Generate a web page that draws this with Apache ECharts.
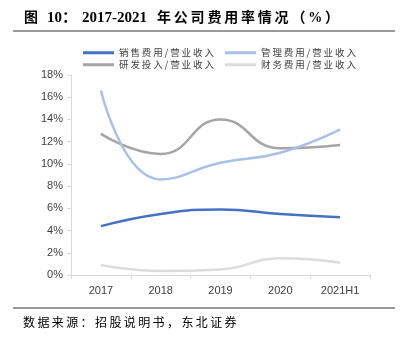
<!DOCTYPE html>
<html><head><meta charset="utf-8">
<script src="https://cdn.jsdelivr.net/npm/echarts@6/dist/echarts.min.js"></script>
<style>html,body{margin:0;padding:0;background:#fff}#c{width:402px;height:337px}</style>
</head><body><div id="c"></div>
<script>
const categories = ['2017', '2018', '2019', '2020', '2021H1'];
const salesRate = [4.4, 5.5, 5.9, 5.5, 5.2];
const adminRate = [16.6, 8.6, 10.1, 11.0, 13.1];
const rdRate = [12.7, 10.9, 14.0, 11.4, 11.7];
const financeRate = [0.9, 0.35, 0.5, 1.5, 1.1];
const seriesNames = ['销售费用/营业收入', '管理费用/营业收入', '研发投入/营业收入', '财务费用/营业收入'];
const yTicks = [0, 2, 4, 6, 8, 10, 12, 14, 16, 18];

const colors = ['#4472C4', '#A9C0E8', '#A5A5A5', '#DCDCDC'];
const chart = echarts.init(document.getElementById('c'));
const spaced = (s, sp) => s.split('').join(sp);
const legendPos = [[78, 43], [220, 43], [78, 55], [220, 55]];
const cjk = '"Noto Sans CJK SC", sans-serif';
const serif = '"Liberation Serif", "Noto Sans CJK SC", serif';
chart.setOption({
  animation: false,
  color: colors,
  grid: { left: 71, right: 32, top: 75, bottom: 62 },
  legend: seriesNames.map((n, i) => ({
    data: [n], left: legendPos[i][0], top: legendPos[i][1],
    icon: 'rect', itemWidth: 31, itemHeight: 3, itemGap: 4,
    formatter: name => spaced(name, '\u2009'),
    textStyle: { fontFamily: cjk, fontSize: 9.5, color: '#404040' }
  })),
  xAxis: {
    type: 'category', data: categories, boundaryGap: true,
    axisLine: { lineStyle: { color: '#D9D9D9' } },
    axisTick: { show: true, lineStyle: { color: '#D9D9D9' }, length: 4 },
    axisLabel: { color: '#404040', fontSize: 11, fontFamily: 'Liberation Sans, sans-serif', margin: 10 }
  },
  yAxis: {
    type: 'value', min: yTicks[0], max: yTicks[yTicks.length - 1], interval: 2,
    axisLine: { show: true, lineStyle: { color: '#D9D9D9' } },
    axisTick: { show: true, lineStyle: { color: '#D9D9D9' }, length: 4 },
    splitLine: { show: false },
    axisLabel: { formatter: v => v + '%', color: '#404040', fontSize: 11, fontFamily: 'Liberation Sans, sans-serif', margin: 8 }
  },
  series: [salesRate, adminRate, rdRate, financeRate].map((d, i) => ({
    name: seriesNames[i], type: 'line', data: d, smooth: 0.5, symbol: 'none',
    lineStyle: { width: 2.5, color: colors[i] }, z: 4 - i
  })),
  graphic: [
    { type: 'text', x: 24, y: 18, style: { text: '图', fontSize: 14, fontWeight: 'bold', fontFamily: serif, fill: '#000', verticalAlign: 'middle' } },
    { type: 'text', x: 47, y: 18, style: { text: '10：', fontSize: 15, fontWeight: 'bold', fontFamily: serif, fill: '#000', verticalAlign: 'middle' } },
    { type: 'text', x: 82, y: 18, style: { text: '2017-2021', fontSize: 15, fontWeight: 'bold', fontFamily: serif, fill: '#000', verticalAlign: 'middle' } },
    { type: 'text', x: 157, y: 18, style: { text: spaced('年公司费用率情况（%）', '\u2009'), fontSize: 14, fontWeight: 'bold', fontFamily: serif, fill: '#000', verticalAlign: 'middle' } },
    { type: 'line', shape: { x1: 13, y1: 31, x2: 395, y2: 31 }, style: { stroke: '#333', lineWidth: 1 } },
    { type: 'line', shape: { x1: 13, y1: 308, x2: 395, y2: 308 }, style: { stroke: '#777', lineWidth: 1.5 } },
    { type: 'text', x: 23, y: 322, style: { text: spaced('数据来源：招股说明书，东北证券', '\u2009'), fontSize: 12, fontFamily: cjk, fill: '#000', verticalAlign: 'middle' } }
  ]
});
</script></body></html>
